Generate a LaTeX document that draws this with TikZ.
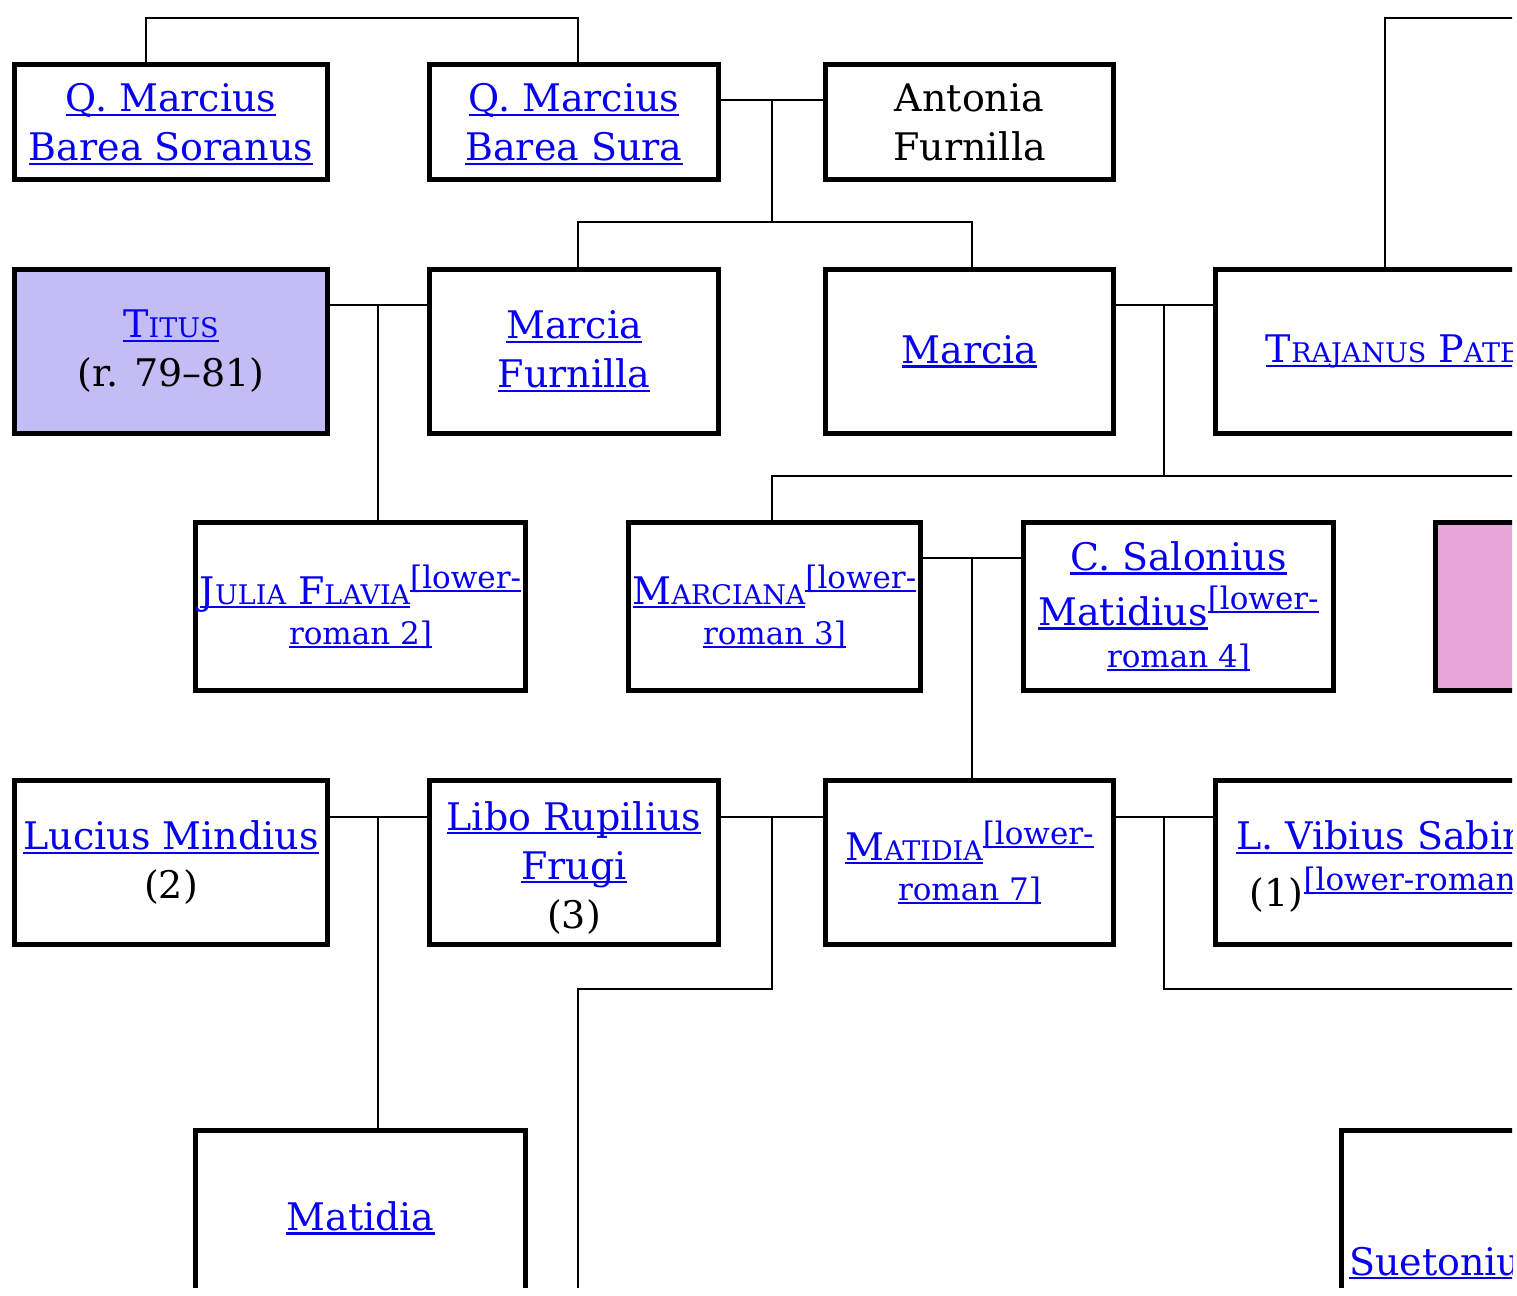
\documentclass[tikz,border=0pt]{standalone}
\usepackage{fontspec}
\setmainfont{DejaVu Serif}
\definecolor{linkblue}{RGB}{6,0,238}
\definecolor{emperor}{RGB}{196,188,244}
\definecolor{empress}{RGB}{232,166,216}
% link text, small caps, superscript note
\newcommand\lk[1]{{\color{linkblue}\setbox0\hbox{#1}\rlap{\rule[-0.11em]{\wd0}{0.055em}}\box0}}
\newcommand\sce[2]{#1{\fontsize{27}{27}\selectfont#2}}
\newcommand\supr[1]{\raisebox{16pt}{\fontsize{31}{31}\selectfont\lk{#1}}}
\newcommand\supl[1]{{\fontsize{31}{31}\selectfont\lk{#1}}}

\begin{document}
\begin{tikzpicture}[x=1pt,y=-1pt,
  person/.style n args={2}{draw,line width=5pt,minimum width=#1,minimum height=#2,
    inner sep=0pt,align=center,font=\fontsize{38}{49}\selectfont},
  rel/.style={line width=2.5pt}]
\useasboundingbox (0,0) rectangle (1517,1295);
\clip (0,0) rectangle (1512,1287);

% Generation 1
\node[person={313}{115}] (soranus) at (171,122) {\rule{0pt}{33pt}\lk{Q. Marcius}\\\lk{Barea Soranus}};
\node[person={289}{115}] (sura) at (574,122) {\rule{0pt}{33pt}\lk{Q. Marcius}\\\lk{Barea Sura}};
\node[person={288}{115}] (antonia) at (969.5,122) {Antonia\\Furnilla};

% Generation 2
\node[person={313}{164},fill=emperor] (titus) at (171,351.5) {\lk{\sce{T}{ITUS}}\\(r. 79--81)};
\node[person={289}{164}] (mfurn) at (574,351.5) {\lk{Marcia}\\\lk{Furnilla}};
\node[person={288}{164}] (marcia) at (969.5,351.5) {\lk{Marcia}};
\node[person={375}{164}] (trajanus) at (1403,351.5) {\lk{\sce{T}{RAJANUS} \sce{P}{ATER}}};

% Generation 3
\node[person={330}{168}] (julia) at (360.5,606.5) {\lk{\sce{J}{ULIA} \sce{F}{LAVIA}}\supr{[lower-}\\[-9pt]\supl{roman 2]}};
\node[person={292}{168}] (marciana) at (774.5,606.5) {\lk{\sce{M}{ARCIANA}}\supr{[lower-}\\[-9pt]\supl{roman 3]}};
\node[person={310}{168}] (salonius) at (1178.5,606.5) {\lk{C. Salonius}\\[6pt]\lk{Matidius}\supr{[lower-}\\[-7pt]\supl{roman 4]}};
\node[person={300}{168},fill=empress] (ulpia) at (1585.5,606.5) {};

% Generation 4
\node[person={313}{164}] (lucius) at (171,862.5) {\lk{Lucius Mindius}\\(2)};
\node[person={289}{164}] (libo) at (574,862.5) {\rule{0pt}{39pt}\lk{Libo Rupilius}\\\lk{Frugi}\\(3)};
\node[person={288}{164}] (matidia) at (969.5,862.5) {\lk{\sce{M}{ATIDIA}}\supr{[lower-}\\[-9pt]\supl{roman 7]}};
\node[person={376}{164}] (sabinus) at (1403.5,862.5) {\rule{0pt}{37pt}\lk{L. Vibius Sabinus}\\[8pt](1)\supr{[lower-roman 1]}};

% Generation 5
\node[person={330}{175}] (matidiab) at (360.5,1218) {\lk{Matidia}};
\node[person={207}{265}] (suetonius) at (1445,1263) {\lk{Suetonius}};

% Junctions
\coordinate (t1) at (146,18);
\coordinate (t2) at (578,18);
\coordinate (t3) at (1385,18);
\coordinate (t4) at (1530,18);
\coordinate (m1) at (772,100);
\coordinate (d1) at (772,222);
\coordinate (d1a) at (578,222);
\coordinate (d1b) at (972,222);
\coordinate (m2) at (378,305);
\coordinate (m3) at (1164,305);
\coordinate (d3) at (1164,476);
\coordinate (d3a) at (772,476);
\coordinate (d3b) at (1530,476);
\coordinate (m4) at (972,558);
\coordinate (m5) at (378,817);
\coordinate (m6) at (772,817);
\coordinate (d6) at (772,989);
\coordinate (d6a) at (578,989);
\coordinate (e6) at (578,1300);
\coordinate (m7) at (1164,817);
\coordinate (d7) at (1164,989);
\coordinate (d7b) at (1530,989);

% Lines
\draw[rel] (soranus.north -| t1) -- (t1) -- (t2) -- (sura.north -| t2);
\draw[rel] (trajanus.north -| t3) -- (t3) -- (t4);
\draw[rel] (sura.east |- m1) -- (antonia.west |- m1);
\draw[rel] (m1) -- (d1);
\draw[rel] (mfurn.north -| d1a) -- (d1a) -- (d1b) -- (marcia.north -| d1b);
\draw[rel] (titus.east |- m2) -- (mfurn.west |- m2);
\draw[rel] (m2) -- (julia.north -| m2);
\draw[rel] (marcia.east |- m3) -- (trajanus.west |- m3);
\draw[rel] (m3) -- (d3);
\draw[rel] (marciana.north -| d3a) -- (d3a) -- (d3b);
\draw[rel] (marciana.east |- m4) -- (salonius.west |- m4);
\draw[rel] (m4) -- (matidia.north -| m4);
\draw[rel] (lucius.east |- m5) -- (libo.west |- m5);
\draw[rel] (m5) -- (matidiab.north -| m5);
\draw[rel] (libo.east |- m6) -- (matidia.west |- m6);
\draw[rel] (m6) -- (d6) -- (d6a) -- (e6);
\draw[rel] (matidia.east |- m7) -- (sabinus.west |- m7);
\draw[rel] (m7) -- (d7) -- (d7b);
\end{tikzpicture}
\end{document}
